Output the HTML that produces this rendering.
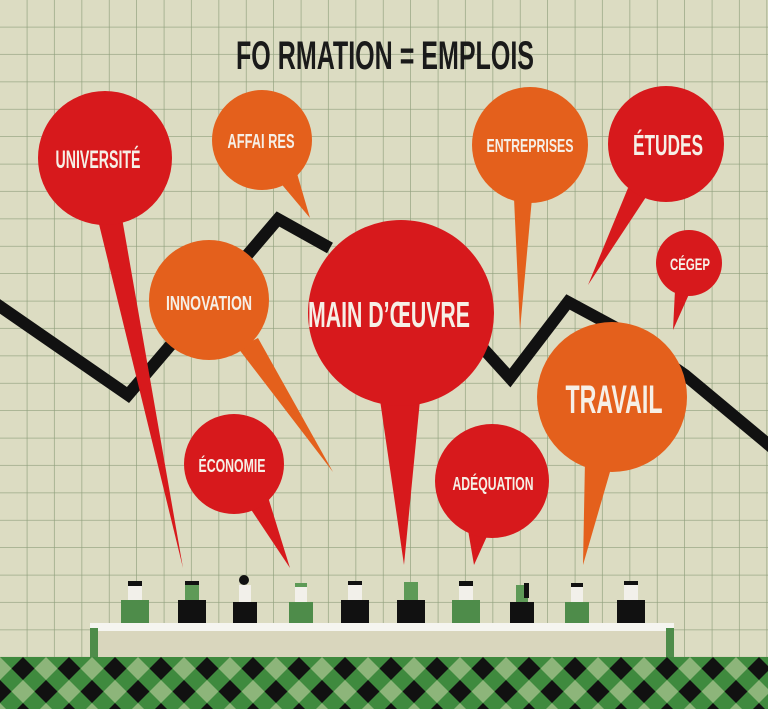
<!DOCTYPE html>
<html><head><meta charset="utf-8"><style>
html,body{margin:0;padding:0;background:#dcdcc0;}
svg{display:block}
text{font-family:"Liberation Sans",sans-serif;font-weight:bold;fill:#f6efe6;text-anchor:middle}
</style></head><body>
<svg width="768" height="709" viewBox="0 0 768 709" xmlns="http://www.w3.org/2000/svg">
<defs>
<pattern id="grid" x="0" y="0" width="27.4" height="27.4" patternUnits="userSpaceOnUse">
<rect width="27.4" height="27.4" fill="#dcdcc2"/>
<path d="M27.4 0V27.4M0 27.4H27.4" stroke="#8f9f7c" stroke-width="1.3" fill="none"/>
</pattern>
<pattern id="chk" x="0" y="657" width="46" height="46" patternUnits="userSpaceOnUse">
<rect width="46" height="46" fill="#3f8a3e"/>
<polygon points="23,0 34.5,11.5 23,23 11.5,11.5" fill="#111"/>
<polygon points="0,23 11.5,34.5 0,46 -11.5,34.5" fill="#111"/>
<polygon points="46,23 57.5,34.5 46,46 34.5,34.5" fill="#111"/>
<polygon points="0,0 11.5,11.5 0,23 -11.5,11.5" fill="#8db57a"/>
<polygon points="46,0 57.5,11.5 46,23 34.5,11.5" fill="#8db57a"/>
<polygon points="23,23 34.5,34.5 23,46 11.5,34.5" fill="#8db57a"/>
</pattern>
</defs>
<rect width="768" height="709" fill="url(#grid)"/>
<polyline points="-5,303 128,395 278,219 330,248" fill="none" stroke="#111" stroke-width="12"/>
<polyline points="480,345 510,378 568,302 620,330 685,375 775,450" fill="none" stroke="#111" stroke-width="12"/>
<text x="385" y="69" font-size="40" textLength="298" lengthAdjust="spacingAndGlyphs" style="fill:#1a1a1a">FO RMATION = EMPLOIS</text>
<g>
<polygon points="98,220 122,218 183,568" fill="#d7191c"/>
<polygon points="278,180 296,170 310,218" fill="#e4601c"/>
<polygon points="238,348 258,338 333,472" fill="#e4601c"/>
<polygon points="380,400 420,400 404,565" fill="#d7191c"/>
<polygon points="514,198 532,198 520,330" fill="#e4601c"/>
<polygon points="628,188 648,194 588,285" fill="#d7191c"/>
<polygon points="675,290 690,292 673,330" fill="#d7191c"/>
<polygon points="585,460 612,465 583,565" fill="#e4601c"/>
<polygon points="468,530 488,534 474,565" fill="#d7191c"/>
<polygon points="248,505 268,497 290,568" fill="#d7191c"/>
</g>
<g>
<circle cx="105" cy="158" r="67" fill="#d7191c"/>
<circle cx="262" cy="140" r="50" fill="#e4601c"/>
<circle cx="209" cy="300" r="60" fill="#e4601c"/>
<circle cx="401" cy="313" r="93" fill="#d7191c"/>
<circle cx="530" cy="145" r="58" fill="#e4601c"/>
<circle cx="666" cy="144" r="58" fill="#d7191c"/>
<circle cx="689" cy="263" r="33" fill="#d7191c"/>
<circle cx="612" cy="397" r="75" fill="#e4601c"/>
<circle cx="492" cy="481" r="57" fill="#d7191c"/>
<circle cx="234" cy="464" r="50" fill="#d7191c"/>
</g>
<g>
<text x="98" y="168" font-size="25" textLength="85" lengthAdjust="spacingAndGlyphs">UNIVERSITÉ</text>
<text x="261" y="148" font-size="20" textLength="67" lengthAdjust="spacingAndGlyphs">AFFAI RES</text>
<text x="209" y="310" font-size="20" textLength="86" lengthAdjust="spacingAndGlyphs">INNOVATION</text>
<text x="389" y="327" font-size="36" textLength="162" lengthAdjust="spacingAndGlyphs">MAIN D’ŒUVRE</text>
<text x="530" y="152" font-size="18" textLength="87" lengthAdjust="spacingAndGlyphs">ENTREPRISES</text>
<text x="668" y="155" font-size="29" textLength="70" lengthAdjust="spacingAndGlyphs">ÉTUDES</text>
<text x="690" y="270" font-size="17" textLength="40" lengthAdjust="spacingAndGlyphs">CÉGEP</text>
<text x="614" y="413" font-size="40" textLength="97" lengthAdjust="spacingAndGlyphs">TRAVAIL</text>
<text x="493" y="490" font-size="18" textLength="81" lengthAdjust="spacingAndGlyphs">ADÉQUATION</text>
<text x="232" y="472" font-size="18" textLength="67" lengthAdjust="spacingAndGlyphs">ÉCONOMIE</text>
</g>
<g>
<g transform="translate(135 0)"><rect x="-14" y="600" width="28" height="24" fill="#4e8c4a"/><rect x="-7" y="583" width="14" height="17" fill="#f2f0ea"/><rect x="-7" y="581" width="14" height="5" fill="#111"/></g>
<g transform="translate(192 0)"><rect x="-14" y="600" width="28" height="24" fill="#111"/><rect x="-7" y="583" width="14" height="17" fill="#5e9a57"/><rect x="-7" y="581" width="14" height="4" fill="#111"/></g>
<g transform="translate(245 0)"><rect x="-12" y="602" width="24" height="22" fill="#111"/><rect x="-6" y="585" width="12" height="17" fill="#f2f0ea"/><circle cx="-1" cy="580" r="5" fill="#111"/></g>
<g transform="translate(301 0)"><rect x="-12" y="602" width="24" height="22" fill="#4e8c4a"/><rect x="-6" y="585" width="12" height="17" fill="#f2f0ea"/><rect x="-6" y="583" width="12" height="4" fill="#5e9a57"/></g>
<g transform="translate(355 0)"><rect x="-14" y="600" width="28" height="24" fill="#111"/><rect x="-7" y="583" width="14" height="17" fill="#f2f0ea"/><rect x="-7" y="581" width="14" height="4" fill="#111"/></g>
<g transform="translate(411 0)"><rect x="-14" y="600" width="28" height="24" fill="#111"/><rect x="-7" y="582" width="14" height="18" fill="#5e9a57"/></g>
<g transform="translate(466 0)"><rect x="-14" y="600" width="28" height="24" fill="#4e8c4a"/><rect x="-7" y="583" width="14" height="17" fill="#f2f0ea"/><rect x="-7" y="581" width="14" height="5" fill="#111"/></g>
<g transform="translate(522 0)"><rect x="-12" y="602" width="24" height="22" fill="#111"/><rect x="-6" y="585" width="12" height="17" fill="#5e9a57"/><rect x="2" y="583" width="5" height="15" fill="#111"/></g>
<g transform="translate(577 0)"><rect x="-12" y="602" width="24" height="22" fill="#4e8c4a"/><rect x="-6" y="585" width="12" height="17" fill="#f2f0ea"/><rect x="-6" y="583" width="12" height="4" fill="#111"/></g>
<g transform="translate(631 0)"><rect x="-14" y="600" width="28" height="24" fill="#111"/><rect x="-7" y="583" width="14" height="17" fill="#f2f0ea"/><rect x="-7" y="581" width="14" height="4" fill="#111"/></g>
</g>
<rect x="90" y="623" width="584" height="36" fill="#d9d6bd"/>
<rect x="90" y="623" width="584" height="8" fill="#f5f5f0"/>
<rect x="90" y="628" width="8" height="31" fill="#4e8c4a"/>
<rect x="666" y="628" width="8" height="31" fill="#4e8c4a"/>
<rect x="0" y="657" width="768" height="52" fill="url(#chk)"/>
</svg>
</body></html>
